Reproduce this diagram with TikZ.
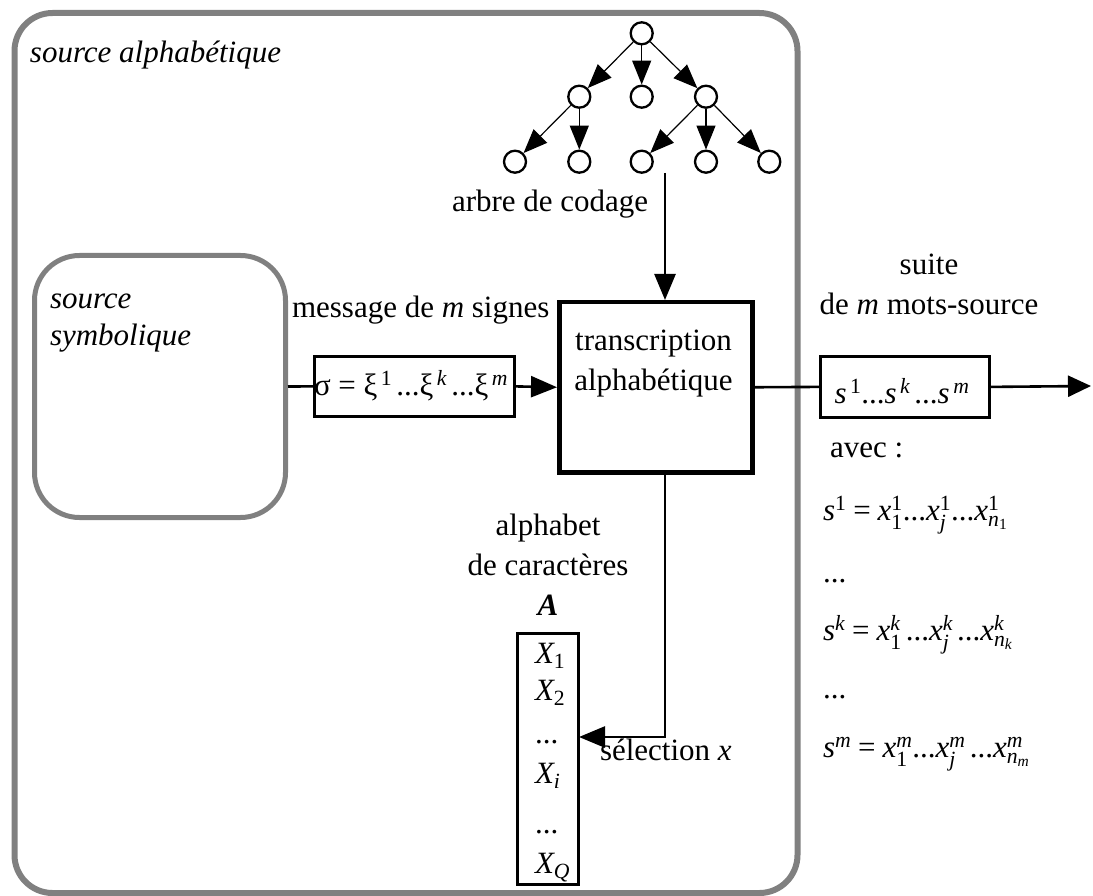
\documentclass[tikz,border=0pt]{standalone}
\usepackage{fontspec}
\usepackage{amsmath}
\setmainfont{Liberation Serif}
\usetikzlibrary{arrows.meta}
\definecolor{framegray}{RGB}{128,128,128}
% italic variable, upright text piece, equals sign and ellipsis in the text font
\newcommand{\vv}[1]{\textit{#1}}
\newcommand{\tx}[1]{\text{#1}}
\newcommand{\eqs}{\mathrel{\text{=}}}
\newcommand{\dd}{\text{...}}
\begin{document}
\begin{tikzpicture}[x=1pt, y=-1pt,
  txt/.style={font=\fontsize{31}{40}\selectfont, inner sep=0pt, outer sep=0pt},
  frame/.style={draw=framegray, inner sep=0pt},
  leaf/.style={circle, draw, line width=2.3pt, minimum size=22pt, inner sep=0pt},
  treearrow/.style={line width=1.2pt, -{Triangle[length=24pt,width=19pt]}},
  wire/.style={line width=2.6pt},
  flow/.style={wire, -{Triangle[length=26pt,width=21pt]}},
  box/.style={draw, line width=2.8pt, inner sep=0pt}]
\useasboundingbox (0,0) rectangle (1093,896);

% outer and inner sources
\node[frame, line width=6pt, rounded corners=38pt, minimum width=783pt, minimum height=880pt,
      anchor=north west] (outer) at (11.5,10) {};
\node[frame, line width=5pt, rounded corners=45pt, minimum width=251pt, minimum height=262pt,
      anchor=north west] (symsrc) at (32,253) {};
\node[txt, anchor=base west] (outerlbl) at (30,63) {\itshape source alphabétique};
% multi-line labels: the base anchor sits on the last line
\node[txt, font=\fontsize{31}{37}\selectfont, anchor=base west, align=left] (symlbl) at (50,345)
  {\itshape source\\\itshape symbolique};

% coding tree
\node[leaf] (r)  at (641.7,33.3) {};
\node[leaf] (a)  at (579.3,96.7) {};
\node[leaf] (b)  at (641.7,96.7) {};
\node[leaf] (c)  at (706,96.7) {};
\node[leaf] (a1) at (515,161.7) {};
\node[leaf] (a2) at (579.3,161.7) {};
\node[leaf] (c1) at (641.7,161.7) {};
\node[leaf] (c2) at (706,161.7) {};
\node[leaf] (c3) at (769.3,161.7) {};
\foreach \u/\w in {r/a, r/b, r/c, a/a1, a/a2, c/c1, c/c2, c/c3}
  \draw[treearrow] (\u) -- (\w);
\node[txt, anchor=base west] (treelbl) at (452,212) {arbre de codage};
\coordinate (treefoot) at (665,173);

% message box
\node[txt, anchor=base west] (msglbl) at (292,317) {message de \vv{m} signes};
\node[box, minimum width=200pt, minimum height=60pt, anchor=north west] (sig) at (313,355) {};
\node[txt, anchor=base west] (sigtxt) at (314,395)
  {σ $\eqs$ ξ$^{\,\tx{1}}\,$...ξ$^{\,\vv{k}}\,$...ξ$^{\,\vv{m}}$};

% transcription block
\node[draw, line width=4.5pt, inner sep=0pt, minimum width=193pt, minimum height=170pt,
      anchor=north west] (trans) at (557,300) {};
\node[txt, anchor=base, align=center] (transtxt) at (653.5,390) {transcription\\alphabétique};

% output sequence
\node[txt, anchor=base, align=center] (suitelbl) at (929,315) {suite\\de \vv{m} mots-source};
\node[box, minimum width=169pt, minimum height=61pt, anchor=north west] (sbox) at (819,355) {};
\node[txt, anchor=base] (stxt) at (902,403)
  {$\vv{s}^{\,\tx{1}}\dd\vv{s}^{\,\vv{k}}\,\dd\vv{s}^{\,\vv{m}}$};
\coordinate (outend) at (1091,386);

\node[txt, anchor=base west] (aveclbl) at (830,457) {avec :};
\node[txt, anchor=base west] (eq1) at (823,520)
  {$\vv{s}^{\tx{1}} \eqs \vv{x}^{\tx{1}}_{\tx{1}}\dd\vv{x}^{\tx{1}}_{\vv{j}}\dd\vv{x}^{\tx{1}}_{\vv{n}_{\tx{1}}}$};
\node[txt, anchor=base west] (dots1) at (823,582) {...};
\node[txt, anchor=base west] (eqk) at (823,640)
  {$\vv{s}^{\vv{k}} \eqs \vv{x}^{\vv{k}}_{\tx{1}}\,\dd\vv{x}^{\vv{k}}_{\vv{j}}\,\dd\vv{x}^{\vv{k}}_{\vv{n}_{\vv{k}}}$};
\node[txt, anchor=base west] (dots2) at (823,698) {...};
\node[txt, anchor=base west] (eqm) at (823,757)
  {$\vv{s}^{\vv{m}} \eqs \vv{x}^{\vv{m}}_{\tx{1}}\dd\vv{x}^{\vv{m}}_{\vv{j}}\,\dd\vv{x}^{\vv{m}}_{\vv{n}_{\vv{m}}}$};

% character alphabet
\node[txt, anchor=base, align=center] (alphlbl) at (548,615)
  {alphabet\\de caractères\\\textbf{\textit{A}}};
\node[box, minimum width=61pt, minimum height=251pt, anchor=north west] (alph) at (516,632) {};
\node[txt, anchor=base west] (x1) at (535,663) {$\vv{X}_{\tx{1}}$};
\node[txt, anchor=base west] (x2) at (535,700) {$\vv{X}_{\tx{2}}$};
\node[txt, anchor=base west] (xd1) at (535,743) {...};
\node[txt, anchor=base west] (xi) at (535,783) {$\vv{X}_{\vv{i}}$};
\node[txt, anchor=base west] (xd2) at (535,833) {...};
\node[txt, anchor=base west] (xq) at (535,873) {$\vv{X}_{\vv{Q}}$};
\coordinate (selin) at (579,737);
\node[txt, anchor=base west] (sellbl) at (600,760) {sélection \vv{x}};

% connectors
\draw[wire] (symsrc.east) -- (sig.west);
\draw[flow] (sig.east) -- (trans.west);
\draw[flow] (treefoot) -- (treefoot |- trans.north);
\draw[wire] (trans.east) -- (sbox.west);
\draw[wire, -{Triangle[length=23pt,width=21pt]}] (sbox.east) -- (outend);
\draw[flow] (treefoot |- trans.south) |- (selin);
\end{tikzpicture}
\end{document}
